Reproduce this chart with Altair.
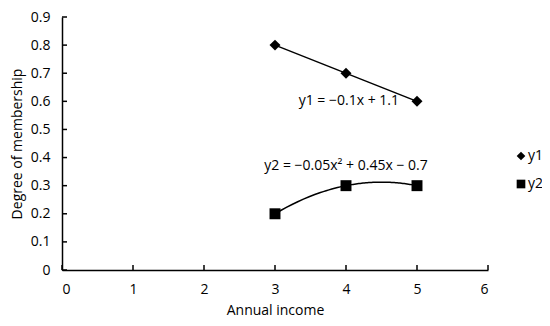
import altair as alt
import pandas as pd

# data
x_vals = [3, 4, 5]
y1_vals = [0.8, 0.7, 0.6]
y2_vals = [0.2, 0.3, 0.3]
series_names = ["y1", "y2"]
x_ticks = [0, 1, 2, 3, 4, 5, 6]
y_ticks = [0, 0.1, 0.2, 0.3, 0.4, 0.5, 0.6, 0.7, 0.8, 0.9]
ann_text = ["y1 = \u22120.1x + 1.1", "y2 = \u22120.05x\u00b2 + 0.45x \u2212 0.7"]
ann_x = [4.04, 4.0]
ann_y = [0.6, 0.37]

FONT = "Open Sans"
FS = 14

df = pd.DataFrame({
    "x": x_vals * 2,
    "y": y1_vals + y2_vals,
    "series": ["y1"] * 3 + ["y2"] * 3,
})
ann = pd.DataFrame({"t": ann_text, "x": ann_x, "y": ann_y})
xt = pd.DataFrame({"v": x_ticks})
yt = pd.DataFrame({"v": y_ticks})

W, H = 426, 253

xscale = alt.Scale(domain=[0, 6], nice=False)
yscale = alt.Scale(domain=[0, 0.9], nice=False)

xaxis = alt.Axis(values=x_ticks, format="d", title="Annual income", grid=False,
                 ticks=False, domainColor="black", labelPadding=12, labelOverlap=False,
                 titleY=40, titleBaseline="middle", labelColor="black", titleColor="black")
yaxis = alt.Axis(values=y_ticks, format=".1~f", title="Degree of membership", grid=False,
                 ticks=False, domainColor="black", labelPadding=12, labelOverlap=False,
                 titleX=-45, titleBaseline="middle", labelColor="black", titleColor="black")


def X(f):
    return alt.X(f, scale=xscale, axis=xaxis, title="Annual income")


def Y(f):
    return alt.Y(f, scale=yscale, axis=yaxis, title="Degree of membership")


base = alt.Chart(df)

points = base.mark_point(filled=True, opacity=1, color="black", size=120).encode(
    x=X("x:Q"),
    y=Y("y:Q"),
    shape=alt.Shape("series:N", scale=alt.Scale(domain=series_names, range=["diamond", "square"]),
                    legend=alt.Legend(title=None, orient="none", legendX=452, legendY=132,
                                      symbolSize=75, symbolFillColor="black", symbolStrokeColor="black",
                                      labelFontSize=FS, labelFont=FONT, rowPadding=12,
                                      labelOffset=0, labelColor="black")),
)

line1 = base.transform_filter(alt.datum.series == "y1").transform_regression(
    "x", "y", method="linear").mark_line(color="black", strokeWidth=1.5).encode(
    x=X("x:Q"), y=Y("y:Q"))

line2 = base.transform_filter(alt.datum.series == "y2").transform_regression(
    "x", "y", method="poly", order=2).mark_line(color="black", strokeWidth=1.5).encode(
    x=X("x:Q"), y=Y("y:Q"))

texts = alt.Chart(ann).mark_text(font=FONT, fontSize=FS, color="black", baseline="middle").encode(
    x=X("x:Q"), y=Y("y:Q"), text="t:N")

xtick_marks = alt.Chart(xt).mark_rule(color="black", strokeWidth=1.5).encode(
    x=X("v:Q"), y=alt.value(H), y2=alt.value(H - 5))
ytick_marks = alt.Chart(yt).mark_rule(color="black", strokeWidth=1.5).encode(
    y=Y("v:Q"), x=alt.value(0), x2=alt.value(5))

chart = alt.layer(points, line1, line2, texts, xtick_marks, ytick_marks).properties(
    width=W, height=H,
    autosize=alt.AutoSizeParams(type="none"),
    padding={"left": 54, "top": 9, "right": 54, "bottom": 48},
).configure_view(stroke=None).configure_axis(
    labelFont=FONT, titleFont=FONT, labelFontSize=FS, titleFontSize=FS,
    titleFontWeight="normal", domainWidth=1.5,
)

chart.save("out.html", embed_options={"renderer": "svg", "actions": False})
